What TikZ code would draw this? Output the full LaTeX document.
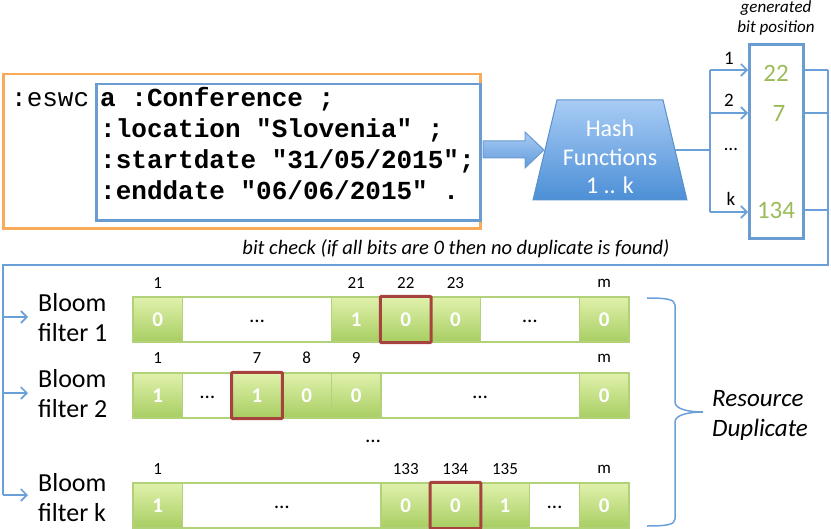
\documentclass[tikz,border=0pt]{standalone}
\usepackage{fontspec}
\setmainfont{Carlito}
\newfontfamily\codefont{Liberation Mono}
\usetikzlibrary{arrows.meta,shapes.geometric}
\newcommand\myfs[2]{\fontsize{#1bp}{#2bp}\selectfont}
\definecolor{orangeB}{HTML}{F9AA5A}
\definecolor{blueB}{HTML}{6A9BD1}
\definecolor{connC}{HTML}{6B9FD8}
\definecolor{hashTop}{HTML}{A8CCF5}
\definecolor{hashBot}{HTML}{4C8FD6}
\definecolor{hashLine}{HTML}{5A90CC}
\definecolor{arrTop}{HTML}{A8CCF5}
\definecolor{arrBot}{HTML}{639BDC}
\definecolor{greenTxt}{HTML}{9BBB59}
\definecolor{cellTop}{HTML}{E0F1AC}
\definecolor{cellBot}{HTML}{A8CE62}
\definecolor{cellLine}{HTML}{B2D27A}
\definecolor{redB}{HTML}{A6433F}
\begin{document}
\begin{tikzpicture}[x=1bp,y=-1bp,
  gcell/.style={draw=cellLine, line width=1.2bp, top color=cellTop, bottom color=cellBot,
    minimum width=49.6bp, minimum height=45bp, inner sep=0pt, text=white, font=\myfs{21}{24}\bfseries},
  wcell/.style={draw=cellLine, line width=1.2bp, fill=white, minimum height=45bp, inner sep=0pt, font=\myfs{21}{24}},
  hl/.style={draw=redB, line width=3bp, rounded corners=1bp},
  idx/.style={font=\myfs{17}{20}, inner sep=0pt},
  conn/.style={draw=connC, line width=1.6bp},
  tip/.style={-{Straight Barb[length=6bp,width=12bp]}},
  bfl/.style={anchor=west, align=left, font=\myfs{26}{30}, inner xsep=10bp, inner ysep=0pt},
  codeln/.style={anchor=base west, inner sep=0pt, font=\codefont\bfseries\myfs{26}{31}},
  numb/.style={text=greenTxt, font=\myfs{25}{28}, inner sep=0pt},
  lab/.style={font=\myfs{19}{22}, inner sep=0pt}
]
\useasboundingbox (0,0) rectangle (831,529);

% --- code boxes
\node[draw=orangeB, line width=2.5bp, minimum width=477bp, minimum height=154bp, anchor=north west, inner sep=0pt] (outer) at (2,73) {};
\node[draw=blueB, line width=2.5bp, minimum width=384bp, minimum height=136bp, anchor=north west, inner sep=0pt] (inner) at (95,83) {};
\node[anchor=base west, inner sep=0pt, font=\codefont\myfs{26}{31}] (eswc) at (11,107) {:eswc};
\node[codeln] (code1) at (100,107) {a :Conference ;};
\node[codeln] (code2) at (100,138) {:location "Slovenia" ;};
\node[codeln] (code3) at (100,169) {:startdate "31/05/2015";};
\node[codeln] (code4) at (100,200) {:enddate "06/06/2015" .};

% --- big arrow
\shade[top color=arrTop, bottom color=arrBot, draw=blueB, line width=1bp]
  (483,141) -- (525,141) -- (525,132) -- (544,150) -- (525,168) -- (525,158) -- (483,158) -- cycle;

% --- hash functions
\shade[top color=hashTop, bottom color=hashBot, draw=hashLine, line width=1bp]
  (557,100) -- (663,100) -- (687,200) -- (533,200) -- cycle;
\node[text=white, align=center, font=\myfs{24}{28.5}, inner sep=0pt] (hash) at (610,157) {Hash\\Functions\\1 .. k};
\coordinate (hashR) at (675,150);

% --- generated bit position box
\node[font=\myfs{17}{20}\itshape, align=center, inner sep=0pt] (genlbl) at (776,18) {generated\\bit position};
\node[draw=blueB, line width=3bp, minimum width=54bp, minimum height=194bp, anchor=north west, inner sep=0pt] (bitbox) at (748,43) {};
\node[numb] (n22) at (776,73) {22};
\node[numb] (n7) at (779,113) {7};
\node[numb] (n134) at (776,210) {134};

% --- connectors hash -> bitbox
\coordinate (s1) at (710,70);
\coordinate (s2) at (710,113);
\coordinate (sk) at (710,212);
\draw[conn] (hashR) -- (hashR -| s1);
\draw[conn] (s1) -- (sk);
\draw[conn,tip] (s1) -- (s1 -| bitbox.west);
\draw[conn,tip] (s2) -- (s2 -| bitbox.west);
\draw[conn,tip] (sk) -- (sk -| bitbox.west);
\node[lab] (l1) at (729,58) {1};
\node[lab] (l2) at (729,100) {2};
\node[lab] (ld) at (731,150) {…};
\node[lab] (lk) at (731,199) {k};

% --- feedback lines
\coordinate (q1) at (828,70);
\coordinate (q2) at (828,113);
\coordinate (q3) at (828,210);
\coordinate (c1) at (828,265);
\coordinate (c2) at (3,265);
\coordinate (c3) at (3,495);
\draw[conn] (q1 -| bitbox.east) -- (q1);
\draw[conn] (q2 -| bitbox.east) -- (q2);
\draw[conn] (q3 -| bitbox.east) -- (q3);
\draw[conn] (q1) -- (c1) -- (c2) -- (c3);
\node[font=\myfs{20.5}{24}\itshape, inner sep=0pt] (bitcheck) at (456,249) {bit check (if all bits are 0 then no duplicate is found)};

% --- bloom filter labels
\node[bfl] (bf1) at (28,318) {Bloom\\filter 1};
\node[bfl] (bf2) at (28,394) {Bloom\\filter 2};
\node[bfl] (bfk) at (28,498) {Bloom\\filter k};
\coordinate (a1) at (3,317);
\coordinate (a2) at (3,393);
\coordinate (ak) at (3,495);
\draw[conn,tip] (a1) -- (a1 -| bf1.west);
\draw[conn,tip] (a2) -- (a2 -| bf2.west);
\draw[conn,tip] (ak) -- (ak -| bfk.west);

% --- row 1
\node[gcell] (r1c0) at (157.8,319.5) {0};
\node[wcell, minimum width=148.8bp] (r1w1) at (257.0,319.5) {\raisebox{-7bp}{…}};
\node[gcell] (r1c4) at (356.2,319.5) {1};
\node[gcell] (r1c5) at (405.8,319.5) {0};
\node[gcell] (r1c6) at (455.4,319.5) {0};
\node[wcell, minimum width=99.2bp] (r1w2) at (529.8,319.5) {\raisebox{-7bp}{…}};
\node[gcell] (r1c9) at (604.2,319.5) {0};
\draw[hl] (r1c5.north west) rectangle (r1c5.south east);
\node[idx] (i1a) at (157.8,283) {1};
\node[idx] (i1b) at (356.2,283) {21};
\node[idx] (i1c) at (405.8,283) {22};
\node[idx] (i1d) at (455.4,283) {23};
\node[idx] (i1e) at (604.2,283) {m};

% --- row 2
\node[gcell] (r2c0) at (157.8,395.5) {1};
\node[wcell, minimum width=49.6bp] (r2w1) at (207.4,395.5) {\raisebox{-7bp}{…}};
\node[gcell] (r2c2) at (257.0,395.5) {1};
\node[gcell] (r2c3) at (306.6,395.5) {0};
\node[gcell] (r2c4) at (356.2,395.5) {0};
\node[wcell, minimum width=198.4bp] (r2w2) at (480.2,395.5) {\raisebox{-7bp}{…}};
\node[gcell] (r2c9) at (604.2,395.5) {0};
\draw[hl] (r2c2.north west) rectangle (r2c2.south east);
\node[idx] (i2a) at (157.8,358) {1};
\node[idx] (i2b) at (257.0,358) {7};
\node[idx] (i2c) at (306.6,358) {8};
\node[idx] (i2d) at (356.2,358) {9};
\node[idx] (i2e) at (604.2,358) {m};

\node[font=\myfs{21}{24}, inner sep=0pt] (vdots) at (373,441) {…};

% --- row k
\node[gcell] (rkc0) at (157.8,505.5) {1};
\node[wcell, minimum width=198.4bp] (rkw1) at (281.8,505.5) {\raisebox{-7bp}{…}};
\node[gcell] (rkc5) at (405.8,505.5) {0};
\node[gcell] (rkc6) at (455.4,505.5) {0};
\node[gcell] (rkc7) at (505.0,505.5) {1};
\node[wcell, minimum width=49.6bp] (rkw2) at (554.6,505.5) {\raisebox{-7bp}{…}};
\node[gcell] (rkc9) at (604.2,505.5) {0};
\draw[hl] (rkc6.north west) rectangle (rkc6.south east);
\node[idx] (ika) at (157.8,469) {1};
\node[idx] (ikb) at (405.8,469) {133};
\node[idx] (ikc) at (455.4,469) {134};
\node[idx] (ikd) at (505.0,469) {135};
\node[idx] (ike) at (604.2,469) {m};

% --- brace and result
\draw[connC, line width=1.5bp]
  (647,298) .. controls (665,298) and (675,299) .. (675,305)
  -- (675,402) .. controls (675,409) and (688,412) .. (703,412)
  .. controls (688,412) and (675,415) .. (675,422)
  -- (675,519) .. controls (675,525) and (665,526) .. (647,526);
\node[anchor=west, align=left, font=\myfs{25}{30}\itshape, inner sep=0pt] (res) at (712,415) {Resource\\Duplicate};
\end{tikzpicture}
\end{document}
